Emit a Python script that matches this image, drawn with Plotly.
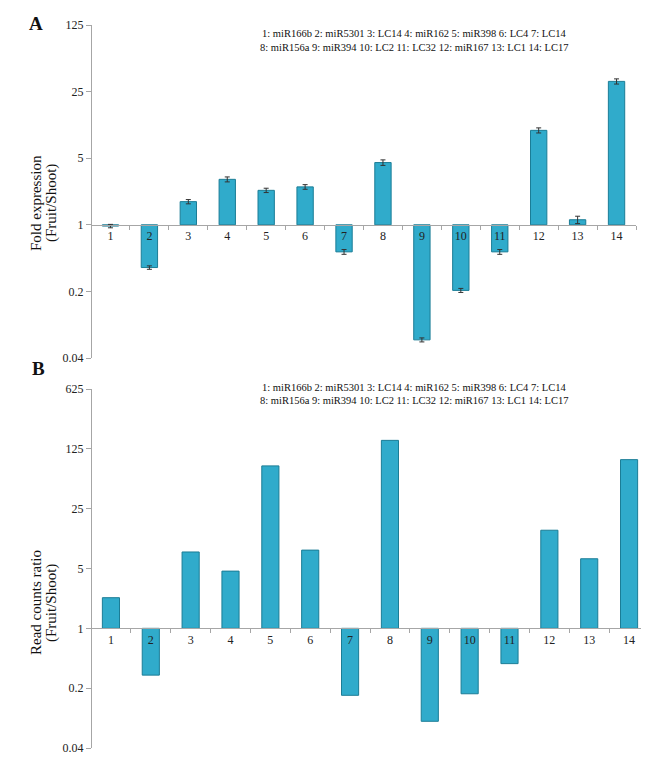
import math
import plotly.graph_objects as go

W, H = 649, 757

categories = [str(i) for i in range(1, 15)]
fold_expression = [0.97, 0.356, 1.75, 3.0, 2.3, 2.5, 0.52, 4.5, 0.062, 0.205, 0.52, 9.8, 1.13, 32.0]
fold_error = [0.04, 0.015, 0.09, 0.18, 0.12, 0.14, 0.03, 0.3, 0.003, 0.01, 0.03, 0.6, 0.1, 2.0]
read_ratio = [2.28, 0.284, 7.8, 4.66, 79.0, 8.2, 0.165, 157.0, 0.082, 0.172, 0.387, 14.0, 6.5, 93.5]

a_ticks = [0.04, 0.2, 1, 5, 25, 125]
b_ticks = [0.04, 0.2, 1, 5, 25, 125, 625]
tick_text_a = ["0.04", "0.2", "1", "5", "25", "125"]
tick_text_b = ["0.04", "0.2", "1", "5", "25", "125", "625"]

legend_line1 = "1: miR166b 2: miR5301 3: LC14 4: miR162 5: miR398 6: LC4 7: LC14"
legend_line2 = "8: miR156a 9: miR394 10: LC2 11: LC32 12: miR167 13: LC1 14: LC17"

FONT = "Liberation Serif"
BAR = "#30abcb"
BAR_LINE = "#1b7d96"
AXIS = "#a6a6a6"


def px_x(p):
    return p / W


def px_y(p):
    return 1 - p / H


fig = go.Figure()

fig.add_trace(go.Bar(
    x=categories, y=[v - 1 for v in fold_expression], base=1,
    marker=dict(color=BAR, line=dict(color=BAR_LINE, width=1)),
    width=0.42,
    error_y=dict(type="data", array=fold_error, color="#333333", thickness=1, width=2.5),
    xaxis="x", yaxis="y", showlegend=False,
))
fig.add_trace(go.Bar(
    x=categories, y=[v - 1 for v in read_ratio], base=1,
    marker=dict(color=BAR, line=dict(color=BAR_LINE, width=1)),
    width=0.43,
    xaxis="x2", yaxis="y2", showlegend=False,
))

# panel geometry (pixels)
a_top, a_bot = 17, 350
b_top, b_bot = 381, 740
a_dom = [px_y(a_bot), px_y(a_top)]
b_dom = [px_y(b_bot), px_y(b_top)]
a_rng = [math.log10(a_ticks[0]), math.log10(a_ticks[-1])]
b_rng = [math.log10(b_ticks[0]), math.log10(b_ticks[-1])]


def one_pos(dom, rng):
    return dom[0] + (0 - rng[0]) / (rng[1] - rng[0]) * (dom[1] - dom[0])


xcommon = dict(
    type="category", showline=True, linecolor=AXIS, linewidth=1,
    ticks="outside", tickson="boundaries", ticklen=4, tickcolor=AXIS,
    showgrid=False, zeroline=False, anchor="free",
    tickfont=dict(family=FONT, size=12, color="#222"),
    range=[-0.5, 13.5], fixedrange=True,
)
ycommon = dict(
    type="log", showline=True, linecolor=AXIS, linewidth=1,
    ticks="outside", ticklen=5, tickcolor=AXIS, showgrid=False, zeroline=False,
    tickfont=dict(family=FONT, size=12, color="#222"), tickmode="array",
)

fig.update_layout(
    width=W, height=H,
    margin=dict(l=0, r=0, t=0, b=0, autoexpand=False),
    paper_bgcolor="white", plot_bgcolor="rgba(0,0,0,0)",
    bargap=0.5,
    xaxis=dict(xcommon, domain=[px_x(83), px_x(628)], position=one_pos(a_dom, a_rng)),
    yaxis=dict(ycommon, domain=a_dom, range=a_rng, anchor="free", position=px_x(83),
               tickvals=a_ticks, ticktext=tick_text_a),
    xaxis2=dict(xcommon, domain=[px_x(83), px_x(641)], position=one_pos(b_dom, b_rng)),
    yaxis2=dict(ycommon, domain=b_dom, range=b_rng, anchor="free", position=px_x(83),
                tickvals=b_ticks, ticktext=tick_text_b),
)

ann = []


def txt(x, y, s, size, bold=False, angle=0):
    ann.append(dict(
        x=px_x(x), y=px_y(y), xref="paper", yref="paper", text=("<b>%s</b>" % s) if bold else s,
        showarrow=False, textangle=angle, xanchor="center", yanchor="middle",
        font=dict(family=FONT, size=size, color="#111"),
    ))


txt(406, 26, legend_line1, 10.5)
txt(406, 39, legend_line2, 10.5)
txt(406, 379, legend_line1, 10.5)
txt(406, 392, legend_line2, 10.5)
txt(28, 15, "A", 19, bold=True)
txt(30, 360, "B", 19, bold=True)
txt(28, 195, "Fold expression", 15, angle=-90)
txt(43, 195, "(Fruit/Shoot)", 15, angle=-90)
txt(28, 595, "Read counts ratio", 15, angle=-90)
txt(43, 595, "(Fruit/Shoot)", 15, angle=-90)

fig.update_layout(annotations=ann)

fig.write_html("out.html")
